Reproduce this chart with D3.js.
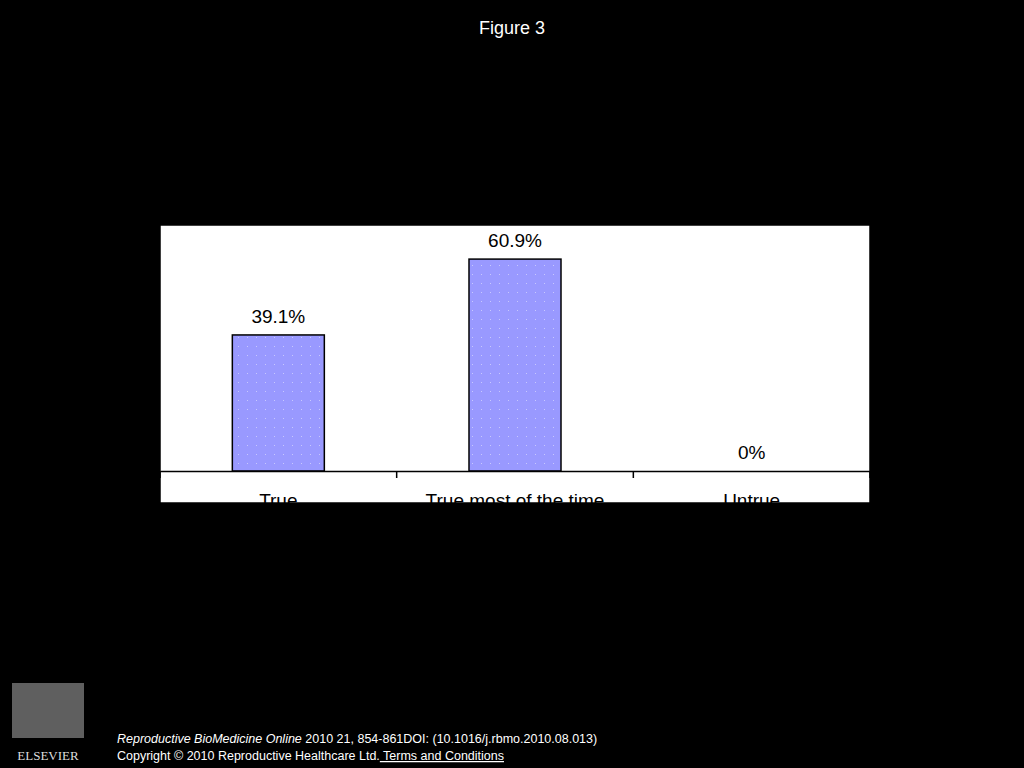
<!DOCTYPE html>
<html><head><meta charset="utf-8">
<script src="https://cdn.jsdelivr.net/npm/d3@7"></script>
<style>body{margin:0;background:#000;}svg{display:block;font-family:"Liberation Sans",Arial,sans-serif;}</style>
</head><body>
<svg id="c" width="1024" height="768"></svg>
<script>
const categories = ["True", "True most of the time", "Untrue"];
const values = [39.1, 60.9, 0];
const valueLabels = ["39.1%", "60.9%", "0%"];

const svg = d3.select("#c");
svg.append("rect").attr("width",1024).attr("height",768).attr("fill","#000");
svg.append("text").attr("x",512).attr("y",34).attr("text-anchor","middle").attr("fill","#fff").attr("font-size",18).text("Figure 3");

const L=160, R=870, T=225, B=503, base=471;
const defs = svg.append("defs");
const pat = defs.append("pattern").attr("id","dots").attr("patternUnits","userSpaceOnUse").attr("width",9).attr("height",9);
pat.append("rect").attr("width",9).attr("height",9).attr("fill","#9999ff");
pat.append("rect").attr("x",4).attr("y",4).attr("width",1).attr("height",1).attr("fill","#c8c8ff");
const clip = defs.append("clipPath").attr("id","pc");
clip.append("rect").attr("x",L).attr("y",T).attr("width",R-L).attr("height",B-T);

const g = svg.append("g").attr("clip-path","url(#pc)");
g.append("rect").attr("x",L).attr("y",T).attr("width",R-L).attr("height",B-T).attr("fill","#fff");

const x = d3.scaleBand().domain(categories).range([L,R]).paddingInner(0).paddingOuter(0);
const y = d3.scaleLinear().domain([0,70.7]).range([base,T]);
const bw = 92;

g.selectAll(".bar").data(categories).join("rect")
  .attr("x",d=>x(d)+x.bandwidth()/2-bw/2).attr("width",bw)
  .attr("y",(d,i)=>y(values[i])).attr("height",(d,i)=>base-y(values[i]))
  .attr("fill","url(#dots)").attr("stroke","#000").attr("stroke-width",1.5);

g.selectAll(".vl").data(categories).join("text")
  .attr("x",d=>x(d)+x.bandwidth()/2).attr("y",(d,i)=>y(values[i])-12)
  .attr("text-anchor","middle").attr("font-size",19).attr("fill","#000")
  .text((d,i)=>valueLabels[i]);

// axis
const ax = g.append("g").attr("transform",`translate(0,${base})`)
  .call(d3.axisBottom(x).tickSize(0).tickPadding(23));
ax.select(".domain").attr("stroke","#000").attr("stroke-width",1.5);
ax.selectAll("text").attr("font-size",19).attr("fill","#000").attr("font-family","Liberation Sans, Arial, sans-serif");
[L, ...categories.slice(1).map(c=>x(c)), R].forEach(px=>{
  g.append("line").attr("x1",px).attr("x2",px).attr("y1",base).attr("y2",base+7).attr("stroke","#000").attr("stroke-width",1.5);
});
g.append("rect").attr("x",L).attr("y",T).attr("width",R-L).attr("height",B-T).attr("fill","none").attr("stroke","#000").attr("stroke-width",1.5);

// footer
const logo = svg.append("g");
logo.append("rect").attr("x",12).attr("y",683).attr("width",72).attr("height",55).attr("fill","#777").attr("opacity",0.8);
logo.append("text").attr("x",48).attr("y",760).attr("text-anchor","middle").attr("fill","#ddd").attr("font-family","Liberation Serif, serif").attr("font-size",13).text("ELSEVIER");
const f1 = svg.append("text").attr("x",117).attr("y",743).attr("fill","#fff").attr("font-size",12.5);
f1.append("tspan").attr("font-style","italic").text("Reproductive BioMedicine Online");
f1.append("tspan").text(" 2010 21, 854-861DOI: (10.1016/j.rbmo.2010.08.013)");
const f2 = svg.append("text").attr("x",117).attr("y",760).attr("fill","#fff").attr("font-size",12.5);
f2.append("tspan").text("Copyright © 2010 Reproductive Healthcare Ltd.");
f2.append("tspan").attr("text-decoration","underline").text(" Terms and Conditions");
</script>
</body></html>
